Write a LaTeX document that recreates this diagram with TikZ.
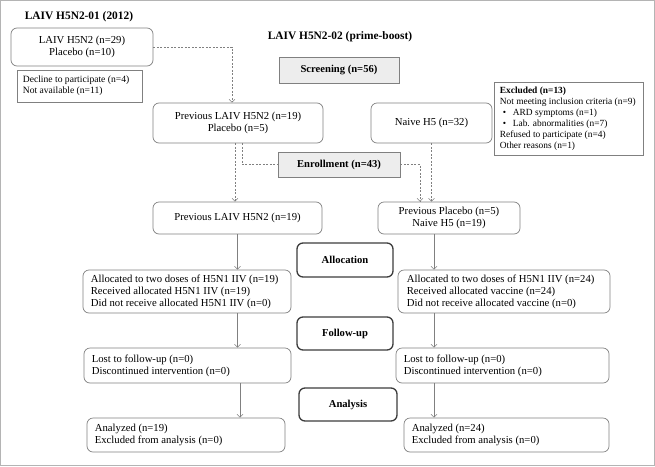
\documentclass[tikz,border=0pt]{standalone}
\usepackage{fontspec}
\setmainfont{Liberation Serif}
\usetikzlibrary{arrows.meta}
\definecolor{lgray}{HTML}{808080}
\definecolor{dgray}{HTML}{3C3C3C}
\definecolor{fgray}{HTML}{EDEDED}
\definecolor{frame}{HTML}{B4B4B4}
\begin{document}
\begin{tikzpicture}[x=1pt,y=-1pt,
  font=\fontsize{10.7}{12}\selectfont,
  rbox/.style={draw=lgray, line width=0.7pt, rounded corners=6pt, inner xsep=0pt, inner ysep=0pt, align=center},
  lbox/.style={draw=lgray, line width=0.7pt, rounded corners=6pt, inner sep=0pt},
  sbox/.style={draw=lgray, line width=0.7pt, inner sep=0pt},
  ltext/.style={inner sep=0pt, align=left, anchor=west},
  stext/.style={inner sep=0pt, align=left, anchor=west, font=\fontsize{9.4}{11.1}\selectfont},
  dtext/.style={inner sep=0pt, align=left, anchor=west, font=\fontsize{9.6}{11}\selectfont},
  gbox/.style={draw=lgray, line width=0.7pt, fill=fgray, inner sep=0pt, font=\fontsize{10.6}{12}\selectfont\bfseries},
  phase/.style={draw=dgray, line width=1.3pt, rounded corners=6pt, inner sep=0pt, font=\fontsize{10.6}{12}\selectfont\bfseries},
  ttl/.style={inner sep=0pt, font=\fontsize{11.4}{13}\selectfont\bfseries},
  dasharrow/.style={draw=lgray, line width=0.5pt, dash pattern=on 2pt off 1.5pt, -{Straight Barb[length=3pt,width=6pt]}},
  dashline/.style={draw=lgray, line width=0.5pt, dash pattern=on 2pt off 1.5pt},
  solarrow/.style={draw=lgray, line width=0.6pt, -{Straight Barb[length=3pt,width=6pt]}}
]
\useasboundingbox (0,0) rectangle (655,466);
\draw[frame, line width=1pt] (0.5,0.5) rectangle (654.5,465.5);

\node[ttl] (t1) at (79,17) {LAIV H5N2-01 (2012)};
\node[ttl] (t2) at (340,37) {LAIV H5N2-02 (prime-boost)};

\node[rbox, minimum width=142, minimum height=38] (b1) at (82,47) {LAIV H5N2 (n=29)\\Placebo (n=10)};
\node[sbox, minimum width=125, minimum height=32] (dec) at (79.5,86) {};
\node[dtext] (dect) at ([xshift=6pt]dec.west) {Decline to participate (n=4)\\Not available (n=11)};
\node[gbox, minimum width=120, minimum height=26] (scr) at (339,70) {Screening (n=56)};
\node[sbox, minimum width=149, minimum height=73] (exc) at (568.5,118.5) {};
\node[stext] (exct) at ([xshift=6pt]exc.west) {\textbf{Excluded (n=13)}\\Not meeting inclusion criteria (n=9)\\\hspace*{3pt}\makebox[10pt][l]{•}ARD symptoms (n=1)\\\hspace*{3pt}\makebox[10pt][l]{•}Lab. abnormalities (n=7)\\Refused to participate (n=4)\\Other reasons (n=1)};
\node[rbox, minimum width=170, minimum height=40] (prev) at (238,123) {Previous LAIV H5N2 (n=19)\\Placebo (n=5)};
\node[rbox, minimum width=121, minimum height=40] (naive) at (431.5,123) {Naive H5 (n=32)};
\node[gbox, minimum width=122, minimum height=25] (enr) at (339,164.5) {Enrollment (n=43)};
\node[rbox, minimum width=169, minimum height=32] (p2) at (237.5,218) {Previous LAIV H5N2 (n=19)};
\node[rbox, minimum width=142, minimum height=32] (p3) at (449,218) {Previous Placebo (n=5)\\Naive H5 (n=19)};
\node[phase, minimum width=96, minimum height=34] (alc) at (345,260) {Allocation};
\node[lbox, minimum width=208, minimum height=43] (a1) at (187,291.5) {};
\node[ltext] (a1t) at ([xshift=8pt]a1.west) {Allocated to two doses of H5N1 IIV (n=19)\\Received allocated H5N1 IIV (n=19)\\Did not receive allocated H5N1 IIV (n=0)};
\node[lbox, minimum width=212, minimum height=43] (a2) at (504,291.5) {};
\node[ltext] (a2t) at ([xshift=9pt]a2.west) {Allocated to two doses of H5N1 IIV (n=24)\\Received allocated vaccine (n=24)\\Did not receive allocated vaccine (n=0)};
\node[phase, minimum width=96, minimum height=33] (fup) at (345,333.5) {Follow-up};
\node[lbox, minimum width=207, minimum height=35] (f1) at (187.5,365.5) {};
\node[ltext] (f1t) at ([xshift=8pt]f1.west) {Lost to follow-up (n=0)\\Discontinued intervention (n=0)};
\node[lbox, minimum width=213, minimum height=35] (f2) at (502.5,365.5) {};
\node[ltext] (f2t) at ([xshift=8pt]f2.west) {Lost to follow-up (n=0)\\Discontinued intervention (n=0)};
\node[phase, minimum width=98, minimum height=33] (ana) at (348,404.5) {Analysis};
\node[lbox, minimum width=198, minimum height=34] (n1) at (186,435) {};
\node[ltext] (n1t) at ([xshift=8pt]n1.west) {Analyzed (n=19)\\Excluded from analysis (n=0)};
\node[lbox, minimum width=205, minimum height=34] (n2) at (506.5,435) {};
\node[ltext] (n2t) at ([xshift=8pt]n2.west) {Analyzed (n=24)\\Excluded from analysis (n=0)};

% dashed connectors
\coordinate (c1) at (232,0);
\draw[dasharrow] (b1.east) -| (c1 |- prev.north);
\coordinate (c2) at (235,0);
\coordinate (c3) at (242,0);
\draw[dasharrow] (c2 |- prev.south) -- (c2 |- p2.north);
\draw[dashline] (c3 |- prev.south) |- (enr.west);
\coordinate (c4) at (420,0);
\draw[dasharrow] (enr.east) -| (c4 |- p3.north);
\draw[dasharrow] (naive.south) -- (naive.south |- p3.north);

% solid connectors
\coordinate (l1) at (237.5,0);
\coordinate (l2) at (240,0);
\coordinate (r1) at (434,0);
\draw[solarrow] (l1 |- p2.south) -- (l1 |- a1.north);
\draw[solarrow] (l1 |- a1.south) -- (l1 |- f1.north);
\draw[solarrow] (l2 |- f1.south) -- (l2 |- n1.north);
\draw[solarrow] (r1 |- p3.south) -- (r1 |- a2.north);
\draw[solarrow] (r1 |- a2.south) -- (r1 |- f2.north);
\draw[solarrow] (r1 |- f2.south) -- (r1 |- n2.north);
\end{tikzpicture}
\end{document}
